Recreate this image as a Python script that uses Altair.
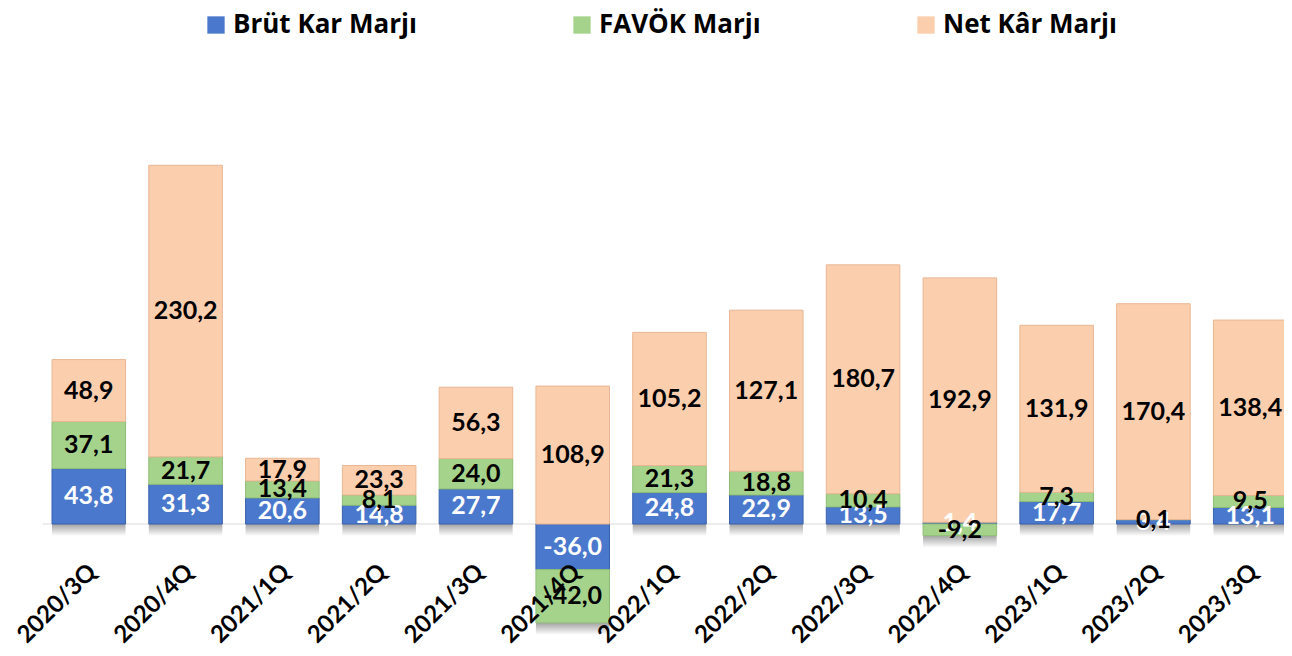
import altair as alt
import pandas as pd

cats = ["2020/3Q", "2020/4Q", "2021/1Q", "2021/2Q", "2021/3Q", "2021/4Q", "2022/1Q",
        "2022/2Q", "2022/3Q", "2022/4Q", "2023/1Q", "2023/2Q", "2023/3Q"]
brut = [43.8, 31.3, 20.6, 14.8, 27.7, -36.0, 24.8, 22.9, 13.5, 1.4, 17.7, 3.4, 13.1]
favok = [37.1, 21.7, 13.4, 8.1, 24.0, -42.0, 21.3, 18.8, 10.4, -9.2, 7.3, 0.1, 9.5]
net = [48.9, 230.2, 17.9, 23.3, 56.3, 108.9, 105.2, 127.1, 180.7, 192.9, 131.9, 170.4, 138.4]

names = ["Brüt Kar Marjı", "FAVÖK Marjı", "Net Kâr Marjı"]
colors = ["#4a78cc", "#a6d38c", "#fbcfae"]
strokes = ["#3a62ad", "#8fbd75", "#e8b694"]

series = [(names[0], brut), (names[1], favok), (names[2], net)]
rows = []
shadow = []
for i, c in enumerate(cats):
    pos, neg = 0.0, 0.0
    for k, (s, vals) in enumerate(series):
        v = vals[i]
        if v >= 0:
            y0, y1 = pos, pos + v
            pos = y1
        else:
            y0, y1 = neg, neg + v
            neg = y1
        rows.append(dict(cat=c, series=s, order=k, value=v, y0=y0, y1=y1,
                         mid=(y0 + y1) / 2, label=f"{v:.1f}".replace(".", ",")))
    shadow.append(dict(cat=c, bottom=min(neg, 0.0)))
df = pd.DataFrame(rows)
sh = pd.DataFrame(shadow)

W, H = 1235, 494
FONT = "Lato"
xenc = alt.X("cat:N", sort=cats,
             scale=alt.Scale(paddingInner=0.24, paddingOuter=0.0, round=False),
             axis=alt.Axis(title=None, labelAngle=-45, labelAlign="right", labelBaseline="middle",
                           domain=False, ticks=False, grid=False, labelFont=FONT, labelFontSize=24,
                           labelFontWeight="bold", labelColor="black", offset=-114,
                           labelPadding=44, labelOffset=4, zindex=1))
yscale = alt.Scale(domain=[-90, 300], nice=False, zero=False)

zero = alt.Chart(pd.DataFrame({"z": [0]})).mark_rule(color="#d9d9d9", strokeWidth=1).encode(
    y=alt.Y("z:Q", scale=yscale, axis=None), x=alt.value(-9), x2=alt.value(W))

shadow_layer = alt.Chart(sh).mark_bar(
    y2Offset=12,
    color=alt.Gradient(gradient="linear", x1=0, x2=0, y1=0, y2=1,
                       stops=[alt.GradientStop(color="#8c8c8c", offset=0),
                              alt.GradientStop(color="#ffffff", offset=1)]),
    opacity=0.8,
).encode(x=xenc, y=alt.Y("bottom:Q", scale=yscale, axis=None), y2="bottom:Q")

bars = alt.Chart(df).mark_bar(strokeWidth=1).encode(
    x=xenc,
    y=alt.Y("y0:Q", scale=yscale, axis=None),
    y2="y1:Q",
    color=alt.Color("series:N", sort=names,
                    scale=alt.Scale(domain=names, range=colors),
                    legend=alt.Legend(title=None, orient="none", legendX=151, legendY=-132,
                                      direction="horizontal", columnPadding=152,
                                      symbolType="square", symbolSize=300, symbolStrokeWidth=0,
                                      labelFont="Open Sans", labelFontSize=26, labelFontWeight="bold",
                                      labelColor="black", labelLimit=400, labelOffset=4)),
    stroke=alt.Stroke("series:N", scale=alt.Scale(domain=names, range=strokes), legend=None),
    order=alt.Order("order:Q"),
)

labels = alt.Chart(df).mark_text(font=FONT, fontSize=25, fontWeight="bold", baseline="middle",
                                 align="center").encode(
    x=xenc,
    y=alt.Y("mid:Q", scale=yscale, axis=None),
    text="label:N",
    color=alt.condition(alt.datum.series == names[0], alt.value("white"), alt.value("black")),
    order=alt.Order("order:Q"),
)

chart = alt.layer(zero, shadow_layer, bars, labels).properties(
    width=W, height=H,
    autosize=alt.AutoSizeParams(type="none"),
    padding={"left": 44, "top": 136, "right": -3, "bottom": 10},
).configure_view(stroke=None)

chart.save("out.html", embed_options={"renderer": "svg", "actions": False})
